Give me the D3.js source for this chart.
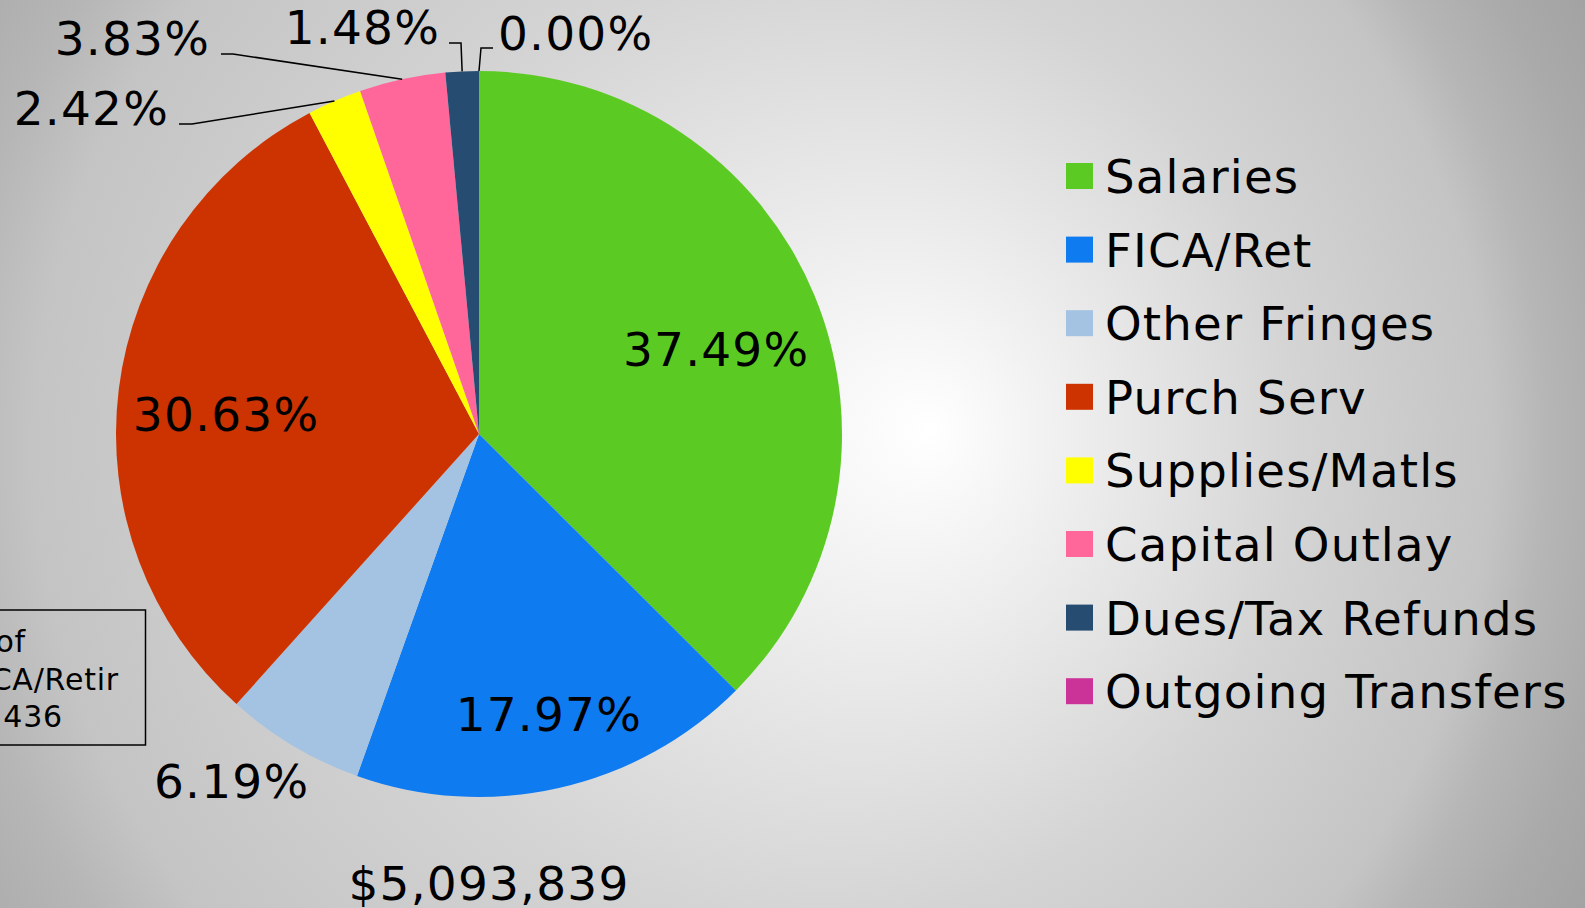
<!DOCTYPE html>
<html>
<head>
<meta charset="utf-8">
<script src="https://cdn.jsdelivr.net/npm/d3@7"></script>
<style>
  body { margin: 0; overflow: hidden; }
  svg text { font-family: "DejaVu Sans", Verdana, sans-serif; fill: #000; letter-spacing: 1.2px; }
</style>
</head>
<body>
<svg width="1585" height="908"></svg>
<script>
// data
var categories = ["Salaries", "FICA/Ret", "Other Fringes", "Purch Serv",
                  "Supplies/Matls", "Capital Outlay", "Dues/Tax Refunds", "Outgoing Transfers"];
var shares = [37.49, 17.97, 6.19, 30.63, 2.42, 3.83, 1.48, 0.00];
var colors = ["#5bcb24", "#0f7bf0", "#a4c2e1", "#cc3300", "#ffff00", "#ff6699", "#264c72", "#cc3399"];
var totalLabel = "$5,093,839";
var noteLines = ["Sum of", "FICA/Retir", "$915 436"];

var svg = d3.select("svg"),
    width = +svg.attr("width"),
    height = +svg.attr("height");

// background gradient
var defs = svg.append("defs");
var grad = defs.append("radialGradient")
    .attr("id", "bg")
    .attr("gradientUnits", "userSpaceOnUse")
    .attr("cx", 700).attr("cy", 454).attr("r", 1000)
    .attr("fx", 930).attr("fy", 430);
[[0, "#ffffff"], [0.48, "#d4d4d4"], [0.73, "#c4c4c4"], [0.8, "#b6b6b6"], [0.9, "#aaaaaa"], [1, "#a2a2a2"]]
    .forEach(function (s) {
        grad.append("stop").attr("offset", s[0]).attr("stop-color", s[1]);
    });
svg.append("rect").attr("width", width).attr("height", height).attr("fill", "url(#bg)");

var cx = 479, cy = 434, radius = 363, fontSize = 47;

var pie = d3.pie().sort(null).value(function (d) { return d; });
var arcs = pie(shares);
var arc = d3.arc().innerRadius(0).outerRadius(radius);
var edge = d3.arc().innerRadius(radius).outerRadius(radius);
var fmt = function (d) { return d3.format(".2f")(d) + "%"; };

var g = svg.append("g").attr("transform", "translate(" + cx + "," + cy + ")");

g.selectAll("path.slice")
    .data(arcs)
    .enter().append("path")
    .attr("class", "slice")
    .attr("d", arc)
    .attr("fill", function (d, i) { return colors[i]; });

// label placement: polar (angle offset in degrees, radius factor) or leader line
var labelLayout = [
    { da: 2.8, k: 0.694 },
    { da: -1.3, k: 0.795 },
    { da: 4.7, k: 1.174 },
    { da: -2.5, k: 0.699 },
    { tx: 169, ty: 125, anchor: "end", hx: 179, ex: 192, ey: 124 },
    { tx: 210, ty: 55, anchor: "end", hx: 221, ex: 233, ey: 54 },
    { tx: 440, ty: 44, anchor: "end", hx: 449, ex: 461, ey: 43 },
    { tx: 498, ty: 50, anchor: "start", hx: 493, ex: 481, ey: 48 }
];

arcs.forEach(function (d, i) {
    var L = labelLayout[i];
    if (L.k !== undefined) {
        var a = (d.startAngle + d.endAngle) / 2 + L.da * Math.PI / 180;
        var x = Math.sin(a) * radius * L.k,
            y = -Math.cos(a) * radius * L.k;
        g.append("text")
            .attr("x", x).attr("y", y + fontSize * 0.365)
            .attr("text-anchor", "middle")
            .style("font-size", fontSize + "px")
            .text(fmt(shares[i]));
    } else {
        var p = edge.centroid(d);
        var pts = [[L.hx - cx, L.ey - cy], [L.ex - cx, L.ey - cy], p];
        g.append("path")
            .attr("d", d3.line()(pts))
            .attr("fill", "none")
            .attr("stroke", "#000")
            .attr("stroke-width", 1.5);
        g.append("text")
            .attr("x", L.tx - cx).attr("y", L.ty - cy)
            .attr("text-anchor", L.anchor)
            .style("font-size", fontSize + "px")
            .text(fmt(shares[i]));
    }
});

// total below the pie
svg.append("text")
    .attr("x", 489).attr("y", 900)
    .attr("text-anchor", "middle")
    .style("font-size", fontSize + "px")
    .text(totalLabel);

// note box at lower left (partly outside the frame)
svg.append("rect")
    .attr("x", -20).attr("y", 610)
    .attr("width", 165.5).attr("height", 135)
    .attr("fill", "none")
    .attr("stroke", "#000")
    .attr("stroke-width", 1.5);
var noteEnds = [26, 119, 63];
noteLines.forEach(function (t, i) {
    svg.append("text")
        .attr("x", noteEnds[i]).attr("y", 652 + i * 37.5)
        .attr("text-anchor", "end")
        .style("font-size", "30px")
        .style("letter-spacing", "0.8px")
        .text(t);
});

// legend
var legend = svg.append("g").attr("transform", "translate(1066,176)");
var row = legend.selectAll("g")
    .data(categories)
    .enter().append("g")
    .attr("transform", function (d, i) { return "translate(0," + (i * 73.6) + ")"; });
row.append("rect")
    .attr("x", 0).attr("y", -13)
    .attr("width", 27).attr("height", 26)
    .attr("fill", function (d, i) { return colors[i]; });
row.append("text")
    .attr("x", 39).attr("y", 17)
    .style("font-size", "46.6px")
    .text(function (d) { return d; });
</script>
</body>
</html>
